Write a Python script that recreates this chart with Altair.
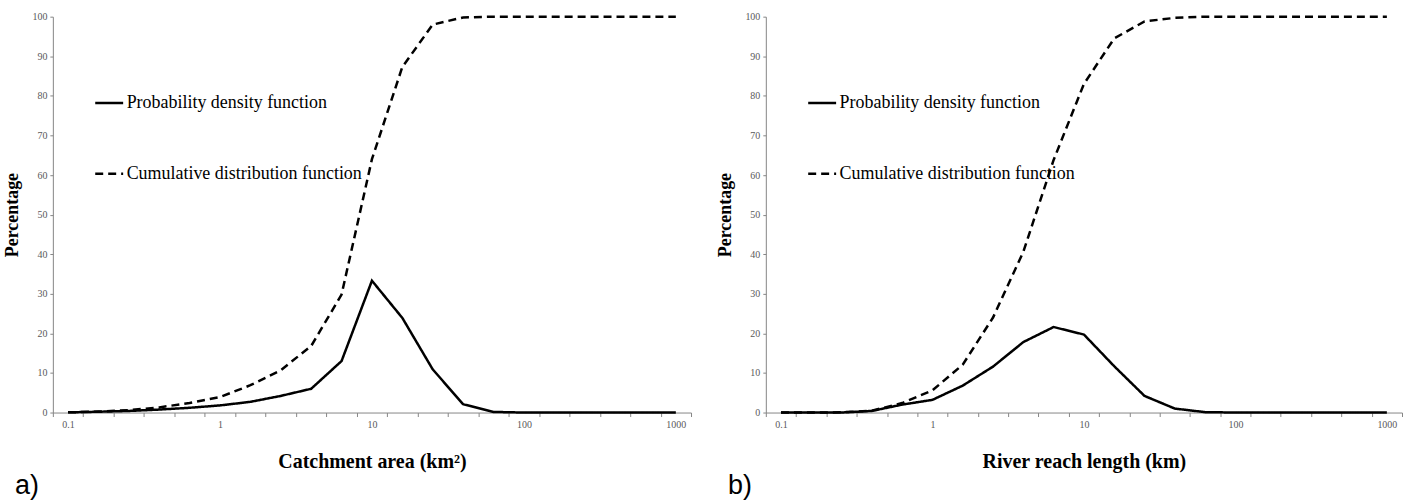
import altair as alt
import pandas as pd

# Category positions (5 per decade, log spaced)
x_values = [0.1, 0.1585, 0.2512, 0.3981, 0.631, 1, 1.585, 2.512, 3.981, 6.31,
            10, 15.85, 25.12, 39.81, 63.1, 100, 158.5, 251.2, 398.1, 631, 1000]

pdf_catchment = [0.05, 0.2, 0.4, 0.75, 1.2, 1.8, 2.7, 4.2, 6.0, 13.0,
                 33.3, 23.9, 10.9, 2.1, 0.15, 0, 0, 0, 0, 0, 0]
cdf_catchment = [0.05, 0.25, 0.6, 1.3, 2.4, 3.9, 6.9, 10.7, 16.8, 29.8,
                 64.0, 87.3, 98.0, 99.8, 100, 100, 100, 100, 100, 100, 100]

pdf_reach = [0, 0, 0, 0.4, 2.0, 3.2, 6.8, 11.6, 17.8, 21.6,
             19.7, 11.7, 4.2, 1.0, 0.1, 0, 0, 0, 0, 0, 0]
cdf_reach = [0, 0, 0.05, 0.45, 2.4, 5.6, 12.1, 24.0, 40.6, 63.8,
             83.0, 94.5, 98.8, 99.7, 100, 100, 100, 100, 100, 100, 100]

series_names = ["Probability density function", "Cumulative distribution function"]
x_titles = ["Catchment area (km²)", "River reach length (km)"]
panel_labels = ["a)", "b)"]
x_tick_labels = [0.1, 1, 10, 100, 1000]
y_ticks = [0, 10, 20, 30, 40, 50, 60, 70, 80, 90, 100]

# category boundaries (half a step outside the first/last category)
boundaries = [10 ** (-1.1 + 0.2 * k) for k in range(22)]
x_domain = [boundaries[0], boundaries[-1]]

SERIF = "Liberation Serif"
AXIS_GRAY = "#868686"
LABEL_GRAY = "#595959"
decade_test = "abs(log(datum.value)/LN10 - round(log(datum.value)/LN10)) < 0.01"


def panel(pdf, cdf, x_title, label, width):
    n = len(x_values)
    df = pd.DataFrame({
        "x": x_values * 2,
        "value": pdf + cdf,
        "series": [series_names[0]] * n + [series_names[1]] * n,
    })
    lines = alt.Chart(df).mark_line(color="black", strokeWidth=2.5).encode(
        x=alt.X("x:Q",
                scale=alt.Scale(type="log", domain=x_domain, nice=False),
                axis=alt.Axis(values=boundaries + x_tick_labels,
                              labelExpr=f"{decade_test} ? format(datum.value, '~g') : ''",
                              tickOpacity={"condition": {"test": decade_test, "value": 0}, "value": 1},
                              tickSize=4, tickColor=AXIS_GRAY, domainColor=AXIS_GRAY,
                              labelFont=SERIF, labelFontSize=10, labelColor=LABEL_GRAY,
                              labelPadding=3, labelOverlap=False, labelFlush=False,
                              grid=False, title=x_title, titleFont=SERIF,
                              titleFontSize=20, titleFontWeight="bold",
                              titleColor="black", titlePadding=22)),
        y=alt.Y("value:Q",
                scale=alt.Scale(domain=[0, 100], nice=False),
                axis=alt.Axis(values=y_ticks, tickSize=3, tickColor=AXIS_GRAY,
                              domainColor=AXIS_GRAY, labelFont=SERIF,
                              labelFontSize=10, labelColor=LABEL_GRAY,
                              labelPadding=3, grid=False, title="Percentage",
                              titleFont=SERIF, titleFontSize=18,
                              titleFontWeight="bold", titleColor="black",
                              titlePadding=10)),
        strokeDash=alt.StrokeDash(
            "series:N",
            scale=alt.Scale(domain=series_names, range=[[1, 0], [8, 5]]),
            legend=alt.Legend(title=None, orient="none", legendX=41, legendY=71,
                              symbolType="stroke", symbolSize=784,
                              symbolStrokeWidth=2.5, symbolStrokeColor="black",
                              labelFont=SERIF, labelFontSize=18,
                              labelColor="black", labelOffset=2,
                              rowPadding=46, labelLimit=400)),
    )
    text = alt.Chart(pd.DataFrame({"label": [label]})).mark_text(
        font="Liberation Sans", fontSize=27, align="left",
        baseline="alphabetic", color="black"
    ).encode(text="label:N", x=alt.value(-38), y=alt.value(479))
    return alt.layer(lines, text).properties(width=width, height=397)


pa = panel(pdf_catchment, cdf_catchment, x_titles[0], panel_labels[0], 640)
pb = panel(pdf_reach, cdf_reach, x_titles[1], panel_labels[1], 638)

chart = alt.hconcat(pa, pb, spacing=25).resolve_scale(
    strokeDash="independent"
).resolve_legend(strokeDash="independent").properties(
    padding={"left": 4, "top": 11, "right": 0, "bottom": 0},
    background="white",
).configure_view(stroke=None).configure_legend(
    labelFont=SERIF, labelFontSize=18, labelColor="black"
)

chart.save("out.html", embed_options={"renderer": "svg", "actions": False})
